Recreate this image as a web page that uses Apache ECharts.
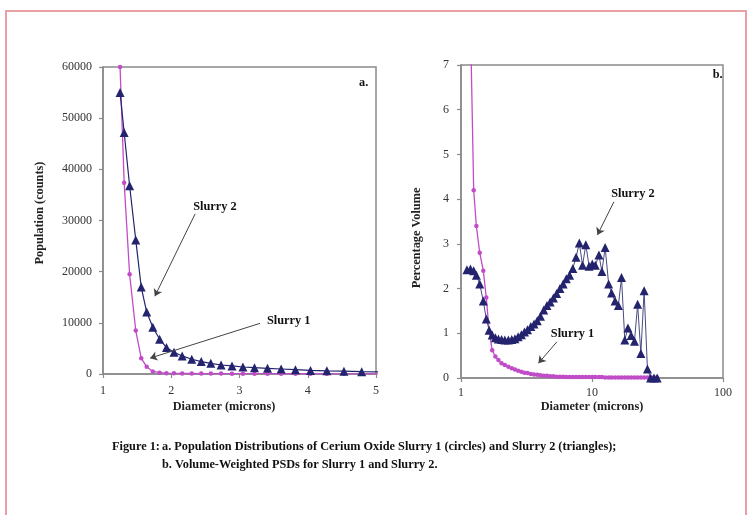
<!DOCTYPE html>
<html>
<head>
<meta charset="utf-8">
<script src="https://cdn.jsdelivr.net/npm/echarts@6/dist/echarts.min.js"></script>
<style>
  html, body { margin: 0; padding: 0; background: #ffffff; }
  #chart { width: 750px; height: 515px; }
</style>
</head>
<body>
<div id="chart"></div>
<script>
// Panel a: number distribution (counts) against diameter, microns
const diameterA = [1.25, 1.31, 1.39, 1.48, 1.56, 1.64, 1.73, 1.83, 1.93, 2.04, 2.16, 2.30, 2.44,
  2.58, 2.73, 2.89, 3.05, 3.22, 3.41, 3.61, 3.82, 4.04, 4.28, 4.53, 4.79, 5.07];
const countsSlurry1 = [60000, 37400, 19500, 8500, 3100, 1400, 500, 260, 170, 130, 110, 100, 90,
  80, 75, 70, 65, 60, 55, 50, 50, 45, 40, 40, 35, 30];
const countsSlurry2 = [55000, 47200, 36800, 26200, 17000, 12100, 9150, 6800, 5160, 4250, 3530, 2880, 2420,
  2090, 1760, 1570, 1370, 1240, 1110, 980, 850, 700, 620, 560, 460, 400];

// Panel b: volume-weighted distribution (%) against diameter, microns (log axis)
const diameterB = [1.11, 1.18, 1.25, 1.31, 1.39, 1.48, 1.56, 1.64, 1.73, 1.83,
  1.93, 2.04, 2.16, 2.30, 2.44, 2.58, 2.73, 2.89, 3.05, 3.22,
  3.41, 3.61, 3.82, 4.04, 4.28, 4.53, 4.79, 5.07, 5.37, 5.69,
  6.02, 6.37, 6.74, 7.14, 7.56, 8.00, 8.47, 8.97, 9.50, 10.05,
  10.6, 11.3, 11.9, 12.6, 13.4, 14.1, 15.0, 15.9, 16.8, 17.8,
  18.8, 19.9, 21.1, 22.3, 23.6, 25.0, 26.5, 28.0, 29.7, 31.4];
const volumeSlurry1 = [null, 8.0, 4.20, 3.40, 2.80, 2.40, 1.80, 1.05, 0.62, 0.48,
  0.40, 0.33, 0.29, 0.25, 0.22, 0.19, 0.16, 0.14, 0.12, 0.11,
  0.09, 0.08, 0.07, 0.06, 0.05, 0.05, 0.04, 0.04, 0.03, 0.03,
  0.03, 0.02, 0.02, 0.02, 0.02, 0.02, 0.02, 0.02, 0.02, 0.02,
  0.02, 0.02, 0.02, 0.01, 0.01, 0.01, 0.01, 0.01, 0.01, 0.01,
  0.01, 0.01, 0.01, 0.01, 0.01, 0.01, 0.01, 0.01, 0.01, 0.01];
const volumeSlurry2 = [2.42, 2.44, 2.40, 2.30, 2.10, 1.72, 1.32, 1.07, 0.96, 0.90,
  0.87, 0.86, 0.85, 0.85, 0.86, 0.88, 0.92, 0.97, 1.03, 1.08,
  1.15, 1.21, 1.28, 1.38, 1.52, 1.62, 1.70, 1.79, 1.89, 2.00,
  2.10, 2.22, 2.30, 2.45, 2.70, 3.02, 2.52, 2.98, 2.50, 2.55,
  2.52, 2.75, 2.38, 2.92, 2.10, 1.90, 1.72, 1.62, 2.25, 0.85,
  1.12, 0.95, 0.82, 1.65, 0.55, 1.95, 0.20, 0.00, 0.00, 0.00];

const pairs = (xs, ys) => xs.map((x, i) => [x, ys[i]]);

const SERIF = "'Liberation Serif', 'DejaVu Serif', serif";
const BOLD_FONT = "bold 12.3px 'Liberation Serif', serif";
const AXIS_GREY = '#8a8a8a';
const PINK = '#c04cc8';
const NAVY = '#23236e';

const tickLabel = { fontFamily: SERIF, fontSize: 12, color: '#333', formatter: v => String(v) };
const noteText = { fontFamily: SERIF, fontSize: 12.3, fontWeight: 'bold', color: '#111' };

function axisCommon() {
  return {
    axisLine: { show: true, lineStyle: { color: AXIS_GREY, width: 1.5 } },
    axisTick: { show: true, inside: false, length: 4, lineStyle: { color: AXIS_GREY, width: 1.2 } },
    splitLine: { show: false },
    minorTick: { show: false }
  };
}

// Text callouts placed in data space of their panel
function note(coord, text) {
  return {
    coord: coord, value: text,
    symbol: 'circle', symbolSize: 1,
    itemStyle: { color: 'rgba(0,0,0,0)' },
    label: Object.assign({ show: true, position: 'inside', formatter: text }, noteText)
  };
}
function arrow(from, to) {
  return [{ coord: from }, { coord: to }];
}
function title(text, x, y, vertical) {
  return {
    type: 'text', x: x, y: y, silent: true,
    rotation: vertical ? Math.PI / 2 : 0,
    style: { text: text, fill: '#222', font: BOLD_FONT, align: 'center', verticalAlign: 'middle' }
  };
}

const chart = echarts.init(document.getElementById('chart'), null, { renderer: 'canvas' });

chart.setOption({
  backgroundColor: '#ffffff',
  animation: false,
  grid: [
    { left: 103, top: 67, width: 273, height: 307, show: true, borderColor: AXIS_GREY, borderWidth: 1.5, backgroundColor: 'transparent' },
    { left: 461, top: 65, width: 262, height: 313, show: true, borderColor: AXIS_GREY, borderWidth: 1.5, backgroundColor: 'transparent' }
  ],
  xAxis: [
    Object.assign(axisCommon(), {
      type: 'value', gridIndex: 0, min: 1, max: 5, interval: 1,
      axisLabel: Object.assign({ margin: 11 }, tickLabel)
    }),
    Object.assign(axisCommon(), {
      type: 'log', logBase: 10, gridIndex: 1, min: 1, max: 100,
      axisLabel: Object.assign({ margin: 9 }, tickLabel)
    })
  ],
  yAxis: [
    Object.assign(axisCommon(), {
      type: 'value', gridIndex: 0, min: 0, max: 60000, interval: 10000,
      axisLabel: Object.assign({ margin: 11 }, tickLabel)
    }),
    Object.assign(axisCommon(), {
      type: 'value', gridIndex: 1, min: 0, max: 7, interval: 1,
      axisLabel: Object.assign({ margin: 12 }, tickLabel)
    })
  ],
  series: [
    {
      name: 'Slurry 1', type: 'line', xAxisIndex: 0, yAxisIndex: 0, clip: true,
      data: pairs(diameterA, countsSlurry1),
      symbol: 'circle', symbolSize: 4.5, showAllSymbol: true,
      itemStyle: { color: PINK }, lineStyle: { color: PINK, width: 1.3 }
    },
    {
      name: 'Slurry 2', type: 'line', xAxisIndex: 0, yAxisIndex: 0, clip: true,
      data: pairs(diameterA, countsSlurry2),
      symbol: 'triangle', symbolSize: 9, showAllSymbol: true,
      itemStyle: { color: NAVY }, lineStyle: { color: NAVY, width: 1.2 },
      markPoint: {
        silent: true, animation: false,
        data: [
          note([2.64, 32600], 'Slurry 2'),
          note([3.72, 10400], 'Slurry 1'),
          note([4.82, 57000], 'a.')
        ]
      },
      markLine: {
        silent: true, animation: false,
        symbol: ['none', 'arrow'], symbolSize: 7,
        label: { show: false },
        lineStyle: { color: '#444', width: 1, type: 'solid' },
        emphasis: { disabled: true },
        data: [
          arrow([2.35, 31300], [1.76, 15200]),
          arrow([3.30, 9900], [1.69, 3100])
        ]
      }
    },
    {
      name: 'Slurry 1', type: 'line', xAxisIndex: 1, yAxisIndex: 1, clip: true,
      data: pairs(diameterB, volumeSlurry1),
      symbol: 'circle', symbolSize: 4.5, showAllSymbol: true, connectNulls: false,
      itemStyle: { color: PINK }, lineStyle: { color: PINK, width: 1.3 }
    },
    {
      name: 'Slurry 2', type: 'line', xAxisIndex: 1, yAxisIndex: 1, clip: true,
      data: pairs(diameterB, volumeSlurry2),
      symbol: 'triangle', symbolSize: 9, showAllSymbol: true,
      itemStyle: { color: NAVY }, lineStyle: { color: '#4a4a82', width: 1 },
      markPoint: {
        silent: true, animation: false,
        data: [
          note([20.5, 4.12], 'Slurry 2'),
          note([7.1, 0.98], 'Slurry 1'),
          note([91, 6.78], 'b.')
        ]
      },
      markLine: {
        silent: true, animation: false,
        symbol: ['none', 'arrow'], symbolSize: 7,
        label: { show: false },
        lineStyle: { color: '#444', width: 1, type: 'solid' },
        emphasis: { disabled: true },
        data: [
          arrow([14.7, 3.94], [11.0, 3.2]),
          arrow([5.4, 0.81], [3.9, 0.33])
        ]
      }
    }
  ],
  graphic: [
    {
      type: 'rect', silent: true, z: -1,
      shape: { x: 6, y: 11, width: 740, height: 520 },
      style: { fill: 'none', stroke: '#e8a0a4', lineWidth: 2 }
    },
    title('Population (counts)', 40, 213, true),
    title('Diameter (microns)', 224, 407, false),
    title('Percentage Volume', 417, 238, true),
    title('Diameter (microns)', 592, 407, false),
    {
      type: 'text', left: 112, top: 441, silent: true,
      style: { text: 'Figure 1:', fill: '#111', font: BOLD_FONT }
    },
    {
      type: 'text', left: 162, top: 441, silent: true,
      style: { text: 'a. Population Distributions of Cerium Oxide Slurry 1 (circles) and Slurry 2 (triangles);', fill: '#111', font: BOLD_FONT }
    },
    {
      type: 'text', left: 162, top: 459, silent: true,
      style: { text: 'b. Volume-Weighted PSDs for Slurry 1 and Slurry 2.', fill: '#111', font: BOLD_FONT }
    }
  ]
});
</script>
</body>
</html>
